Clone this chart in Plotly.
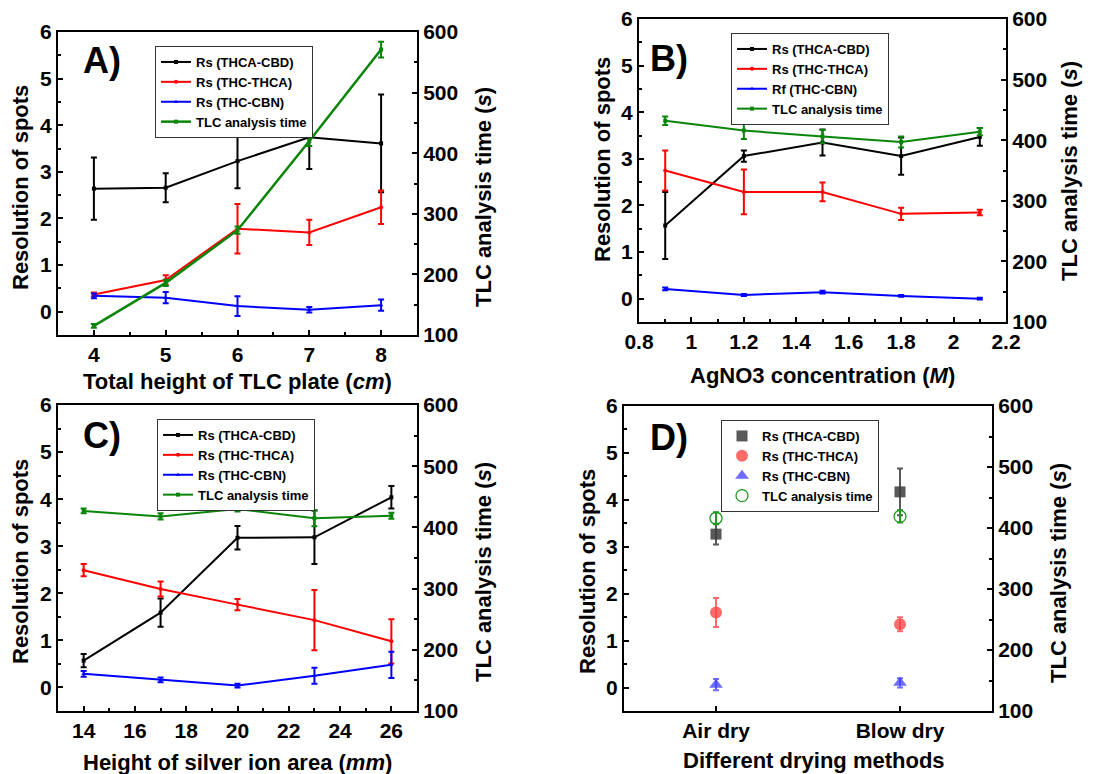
import plotly.graph_objects as go

W, H = 1105, 774
FONT = "Arial, Liberation Sans, sans-serif"

# ---- data -------------------------------------------------------------
a_x = [4, 5, 6, 7, 8]
a_cbd = [2.64, 2.66, 3.23, 3.74, 3.61]
a_cbd_err = [0.67, 0.31, 0.58, 0.68, 1.05]
a_thca = [0.37, 0.68, 1.78, 1.70, 2.24]
a_thca_err = [0.04, 0.10, 0.53, 0.27, 0.36]
a_cbn = [0.34, 0.30, 0.12, 0.04, 0.14]
a_cbn_err = [0.05, 0.12, 0.21, 0.06, 0.12]
a_time = [115, 186, 273, 420, 571]
a_time_err = [3, 5, 6, 8, 13]

b_x = [0.9, 1.2, 1.5, 1.8, 2.1]
b_cbd = [1.57, 3.06, 3.35, 3.06, 3.47]
b_cbd_err = [0.72, 0.12, 0.28, 0.40, 0.19]
b_thca = [2.75, 2.29, 2.29, 1.82, 1.85]
b_thca_err = [0.43, 0.48, 0.20, 0.13, 0.06]
b_cbn = [0.21, 0.08, 0.14, 0.06, 0.00]
b_cbn_err = [0.03, 0.02, 0.03, 0.02, 0.02]
b_time = [432, 416, 406, 397, 414]
b_time_err = [7, 14, 11, 9, 6]

c_x = [14, 17, 20, 23, 26]
c_cbd = [0.57, 1.59, 3.18, 3.19, 4.04]
c_cbd_err = [0.14, 0.30, 0.25, 0.57, 0.24]
c_thca = [2.49, 2.09, 1.76, 1.43, 0.98]
c_thca_err = [0.13, 0.16, 0.12, 0.64, 0.47]
c_cbn = [0.29, 0.16, 0.04, 0.25, 0.48]
c_cbn_err = [0.06, 0.05, 0.04, 0.17, 0.28]
c_time = [427, 418, 430, 415, 419]
c_time_err = [4, 5, 4, 13, 5]

d_x = ["Air dry", "Blow dry"]
d_cbd = [3.27, 4.17]
d_cbd_err = [0.22, 0.50]
d_thca = [1.60, 1.35]
d_thca_err = [0.31, 0.15]
d_cbn = [0.06, 0.10]
d_cbn_err = [0.12, 0.10]
d_time = [416, 419]
d_time_err = [10, 10]

left_ticks = [0, 1, 2, 3, 4, 5, 6]
right_ticks = [100, 200, 300, 400, 500, 600]
b_ticks = [0.8, 1.0, 1.2, 1.4, 1.6, 1.8, 2.0, 2.2]
b_ticktext = ["0.8", "1", "1.2", "1.4", "1.6", "1.8", "2", "2.2"]

names_a = ["Rs (THCA-CBD)", "Rs (THC-THCA)", "Rs (THC-CBN)", "TLC analysis time"]
names_b = ["Rs (THCA-CBD)", "Rs (THC-THCA)", "Rf (THC-CBN)", "TLC analysis time"]

# ---- panel geometry (pixels) -----------------------------------------
panels = {
    "A": dict(x0=58, x1=417, top=32, bot=335),
    "B": dict(x0=639, x1=1006, top=19, bot=322),
    "C": dict(x0=58, x1=417, top=405, bot=711),
    "D": dict(x0=624, x1=992, top=406, bot=711),
}

BLACK, RED, BLUE, GREEN = "#000000", "#ff0000", "#0000ff", "#0a850a"

fig = go.Figure()


def px(x):
    return x / W


def py(y):
    return 1 - y / H


def err(vals, color):
    return dict(type="data", array=vals, color=color, thickness=2, width=3)


def line_panel(idx, x, series, names, legend):
    xa = "x" if idx == 1 else f"x{idx}"
    yl = f"y{2 * idx - 1}" if idx > 1 else "y"
    yr = f"y{2 * idx}"
    styles = [(BLACK, "square"), (RED, "circle"), (BLUE, "triangle-up")]
    for (vals, evals), (col, sym), name in zip(series[:3], styles, names[:3]):
        fig.add_trace(go.Scatter(
            x=x, y=vals, error_y=err(evals, col), mode="lines+markers",
            line=dict(color=col, width=2), marker=dict(color=col, size=4, symbol=sym),
            name=name, xaxis=xa, yaxis=yl, legend=legend))
    vals, evals = series[3]
    fig.add_trace(go.Scatter(
        x=x, y=vals, error_y=err(evals, GREEN), mode="lines+markers",
        line=dict(color=GREEN, width=2.5 if idx == 1 else 2),
        marker=dict(color=GREEN, size=4, symbol="square"),
        name=names[3], xaxis=xa, yaxis=yr, legend=legend))


line_panel(1, a_x, [(a_cbd, a_cbd_err), (a_thca, a_thca_err), (a_cbn, a_cbn_err),
                    (a_time, a_time_err)], names_a, "legend")
line_panel(2, b_x, [(b_cbd, b_cbd_err), (b_thca, b_thca_err), (b_cbn, b_cbn_err),
                    (b_time, b_time_err)], names_b, "legend2")
line_panel(3, c_x, [(c_cbd, c_cbd_err), (c_thca, c_thca_err), (c_cbn, c_cbn_err),
                    (c_time, c_time_err)], names_a, "legend3")

# panel D: scatter points only
d_styles = [
    (d_cbd, d_cbd_err, "rgba(60,60,60,0.85)", "square", 11, "y7"),
    (d_thca, d_thca_err, "rgba(255,70,70,0.8)", "circle", 12, "y7"),
    (d_cbn, d_cbn_err, "rgba(60,60,255,0.75)", "triangle-up", 12, "y7"),
]
for (vals, evals, col, sym, size, ya), name in zip(d_styles, names_a[:3]):
    fig.add_trace(go.Scatter(
        x=d_x, y=vals, error_y=err(evals, col), mode="markers",
        marker=dict(color=col, size=size, symbol=sym, line=dict(width=0)),
        name=name, xaxis="x4", yaxis=ya, legend="legend4"))
fig.add_trace(go.Scatter(
    x=d_x, y=d_time, error_y=err(d_time_err, "#1f9a1f"), mode="markers",
    marker=dict(color="rgba(0,0,0,0)", size=12, symbol="circle",
                line=dict(color="#1f9a1f", width=1.3)),
    name=names_a[3], xaxis="x4", yaxis="y8", legend="legend4"))

# ---- axes -------------------------------------------------------------
tickfont = dict(family=FONT, size=21, color="black", weight="bold")
axis_common = dict(showline=True, linecolor="black", linewidth=2, ticks="inside",
                   ticklen=5, tickwidth=1.5, tickcolor="black", showgrid=False,
                   zeroline=False, tickfont=tickfont, automargin=False)
minor_y = dict(ticklen=3, tickwidth=1.5, tickcolor="black", ticks="inside", showgrid=False)

layout = dict(width=W, height=H, margin=dict(l=0, r=0, t=0, b=0),
              paper_bgcolor="white", plot_bgcolor="white", showlegend=True)

xspecs = {
    1: dict(range=[3.5, 8.5], tickvals=a_x, minor=dict(dtick=0.5, tick0=3.5, **minor_y)),
    2: dict(range=[0.8, 2.2], tickvals=b_ticks, ticktext=b_ticktext,
            minor=dict(dtick=0.1, tick0=0.8, **minor_y)),
    3: dict(range=[13, 27], tickvals=[14, 16, 18, 20, 22, 24, 26],
            minor=dict(dtick=1, tick0=13, **minor_y)),
    4: dict(type="category", range=[-0.5, 1.5]),
}
for i, key in enumerate(["A", "B", "C", "D"], start=1):
    g = panels[key]
    dom_x = [px(g["x0"]), px(g["x1"])]
    dom_y = [py(g["bot"]), py(g["top"])]
    xname = "xaxis" if i == 1 else f"xaxis{i}"
    ylname = "yaxis" if i == 1 else f"yaxis{2 * i - 1}"
    yrname = f"yaxis{2 * i}"
    yl_ref = "y" if i == 1 else f"y{2 * i - 1}"
    x_ref = "x" if i == 1 else f"x{i}"
    layout[xname] = dict(domain=dom_x, anchor=yl_ref, mirror=True, **axis_common,
                         **xspecs[i])
    layout[ylname] = dict(domain=dom_y, anchor=x_ref, range=[-0.5, 6],
                          tickvals=left_ticks, minor=dict(dtick=0.5, tick0=0, **minor_y),
                          **axis_common)
    layout[yrname] = dict(overlaying=yl_ref, side="right", anchor=x_ref,
                          range=[100, 600], tickvals=right_ticks,
                          minor=dict(dtick=50, tick0=100, **minor_y), **axis_common)

legend_font = dict(family=FONT, size=13, color="black", weight="bold")
legend_pos = {"legend": (155, 46), "legend2": (731, 33), "legend3": (157, 419),
              "legend4": (721, 420)}
for name, (lx, ly) in legend_pos.items():
    layout[name] = dict(x=px(lx), y=py(ly), xanchor="left", yanchor="top",
                        bgcolor="white", bordercolor="#333333", borderwidth=1,
                        font=legend_font, tracegroupgap=0, itemwidth=30)

fig.update_layout(**layout)

# ---- text -------------------------------------------------------------
title_font = dict(family=FONT, size=22, color="black", weight="bold")


def label(text, x, y, angle=0, font=title_font):
    fig.add_annotation(text=text, x=px(x), y=py(y), xref="paper", yref="paper",
                       showarrow=False, textangle=angle, font=font,
                       xanchor="center", yanchor="middle")


panel_font = dict(family=FONT, size=36, color="black", weight="bold")
for txt, x, y in [("A)", 102, 60), ("B)", 669, 58), ("C)", 102, 435), ("D)", 669, 437)]:
    label(txt, x, y, font=panel_font)

# left / right axis titles
for x, y in [(20, 188), (603, 160), (20, 562), (587, 572)]:
    label("Resolution of spots", x, y, angle=-90)
for x, y in [(483, 197), (1070, 171), (483, 572), (1058, 573)]:
    label("TLC analysis time (<i>s</i>)", x, y, angle=-90)

# x-axis titles
label("Total height of TLC plate (<i>cm</i>)", 237, 381)
label("AgNO3 concentration (<i>M</i>)", 822, 375)
label("Height of silver ion area (<i>mm</i>)", 237, 762)
label("Different drying methods", 814, 760)

fig.write_html("out.html")
